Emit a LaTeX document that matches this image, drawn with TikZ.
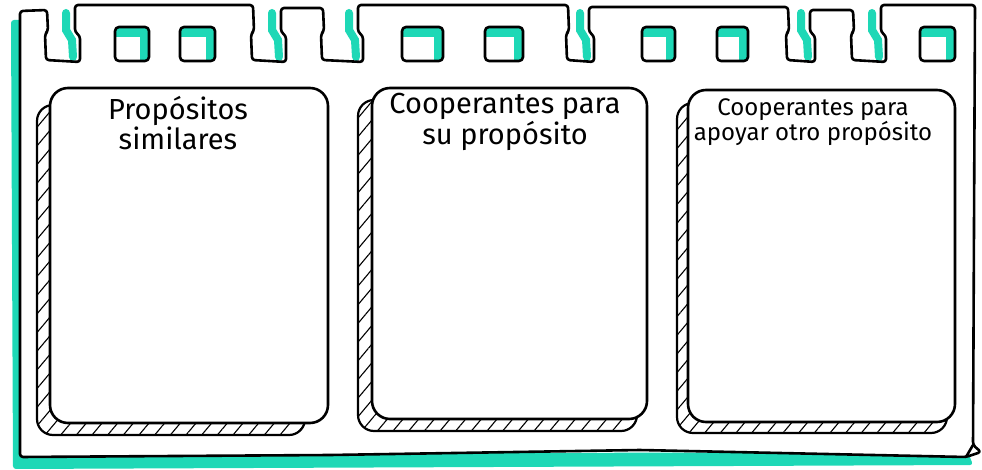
\documentclass[tikz,border=0pt]{standalone}
\usepackage{fontspec}
\setmainfont{Fira Sans}
\usetikzlibrary{patterns.meta}
\definecolor{mint}{HTML}{1ED8B6}
\tikzset{
  ink/.style={line width=2.6pt, line join=round, line cap=round},
  cardbox/.style={ink, fill=white, rounded corners=18pt},
  cardshadow/.style={ink, line width=2.2pt, rounded corners=16pt,
    pattern={Lines[angle=50, distance=12pt, line width=1.1pt]}},
  cardtext/.style={align=center, inner sep=0pt, font=\fontsize{29}{28}\selectfont}
}
\begin{document}
\begin{tikzpicture}[x=1pt, y=-1pt]
  \useasboundingbox (0,0) rectangle (982,470);

  % === sombra verde del marco ===
  \fill[mint, rounded corners=3pt] (11,20) -- (22,20) -- (22,454) -- (968,452)
    -- (973,465) -- (13,469) -- cycle;

  % === marco con pestañas ===
  \fill[white] (20,457) -- (20,11) -- (47,9) -- (975,5) -- (973,445)
    -- (966,457) -- (640,450) -- (330,455) -- cycle;

  % sombras dentro de las muescas
  \foreach \b in {80, 286, 363, 594, 815, 886}
    \draw[mint, line width=8pt, line cap=round]
      ({\b-14},13) -- ({\b-14},30) -- ({\b-8},40) -- ({\b-7},57);

  \draw[ink, rounded corners=3pt] (20,457) -- (20,11)
    -- (47,10) -- (48,31) -- (45,34) -- (46,60) -- (80,62) -- (80,36) -- (75,32) -- (75,5)
    -- (253,5) -- (254,31) -- (251,34) -- (252,60) -- (286,62) -- (286,36) -- (281,32) -- (281,8)
    -- (323,8) -- (324,31) -- (321,34) -- (322,60) -- (363,62) -- (363,36) -- (358,32) -- (358,5)
    -- (568,5) -- (569,31) -- (566,34) -- (567,60) -- (594,62) -- (594,36) -- (589,32) -- (589,7)
    -- (788,7) -- (789,31) -- (786,34) -- (787,60) -- (815,62) -- (815,36) -- (810,32) -- (810,10)
    -- (853,10) -- (854,31) -- (851,34) -- (852,60) -- (886,62) -- (886,36) -- (881,32) -- (881,5)
    -- (975,5) -- (973,445) -- (981,452) -- (966,457)
    -- (640,450) -- (330,455) -- cycle;
  \draw[ink] (973,445) -- (966,457);

  % agujeros
  \foreach \xa/\xb in {115/149, 180/215, 402/443, 485/523, 642/675, 717/748, 920/955} {
    \fill[mint, rounded corners=4pt] (\xa,27) rectangle (\xb,61);
    \fill[white] (\xa,37) rectangle ({\xb-9},61);
    \draw[ink, rounded corners=4pt] (\xa,27) rectangle (\xb,61);
  }

  % === tarjetas ===
  \draw[cardshadow] (37,105) rectangle (305,435);
  \draw[cardbox] (50,88) rectangle (328,423);
  \node[cardtext] (proposito) at (178,123) {Propósitos\\similares};

  \draw[cardshadow] (358,100) rectangle (637,431);
  \draw[cardbox] (372,88) rectangle (647,419);
  \node[cardtext, font=\fontsize{29}{25}\selectfont] (propio) at (505,122)
    {Cooperantes para\\su propósito};

  \draw[cardshadow] (677,103) rectangle (947,433);
  \draw[cardbox] (688,90) rectangle (955,422);
  \node[cardtext, font=\fontsize{24}{24}\selectfont] (otro) at (813,122)
    {Cooperantes para\\apoyar otro propósito};
\end{tikzpicture}
\end{document}
